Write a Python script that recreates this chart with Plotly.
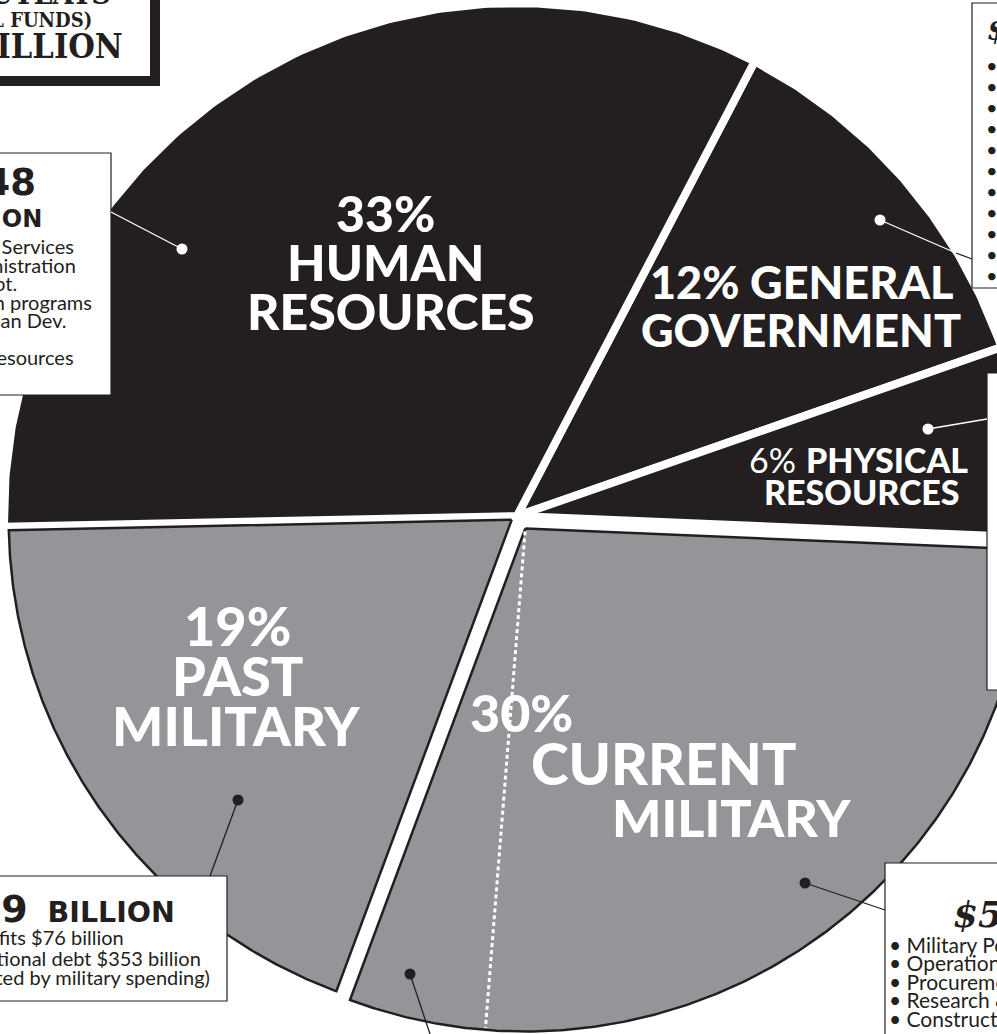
import numpy as np
import plotly.graph_objects as go

W, H = 997, 1034

# ---------------- data ----------------
categories = ["GENERAL GOVERNMENT", "PHYSICAL RESOURCES", "CURRENT MILITARY",
              "PAST MILITARY", "HUMAN RESOURCES"]
percent = [12, 6, 30, 19, 33]
dark_or_gray = ["dark", "dark", "gray", "gray", "dark"]
current_military_split = [25.6, 4.4]   # portion beyond the dotted line

title_lines = ["TOTAL OUTLAYS", "(FEDERAL FUNDS)", "$2,265 BILLION"]
hr_heading = ["$648", "BILLION"]
hr_items = ["• Health & Human Services", "• Social Security Administration",
            "• Education Dept.", "• Food & nutrition programs",
            "• Housing & Urban Dev.", "• Labor Dept.", "• Other human resources"]
pm_heading = ["$359", "BILLION"]
pm_items = ["• Veterans' benefits $76 billion",
            "• Interest on national debt $353 billion",
            "(80% of debt created by military spending)"]
cm_heading = "$542 BILLION"
cm_items = ["• Military Personnel", "• Operation & Maintenance", "• Procurement",
            "• Research & Development", "• Construction"]
gg_heading = "$272 BILLION"
gg_items = ["• Interest on non-military debt", "• Justice Dept.", "• Treasury Dept.",
            "• Legislative", "• Judicial", "• Executive Office", "• State Dept.",
            "• International affairs", "• Homeland Security", "• Government admin.",
            "• Other"]

# ---------------- styling / geometry ----------------
DARK = "#231f20"
GRAY = "#939598"
CX, CY = 517, 516
R_DARK = 509
R_GRAY = 503
START = 27.6
GAP = 8
PULL = {"CURRENT MILITARY": 15, "PAST MILITARY": 6.5}

cum = np.concatenate([[0], np.cumsum(percent)])
a_start = START + 360 * cum[:-1] / 100
a_end = START + 360 * cum[1:] / 100


def wedge(cx, cy, r, a0, a1, n=240):
    t = np.radians(np.linspace(a0, a1, n))
    xs = np.concatenate([[cx], cx + r * np.sin(t), [cx]])
    ys = np.concatenate([[cy], cy - r * np.cos(t), [cy]])
    return xs, ys


fig = go.Figure()
apex = {}
for kind in ["dark", "gray"]:
    for i, cat in enumerate(categories):
        if dark_or_gray[i] != kind:
            continue
        mid = np.radians((a_start[i] + a_end[i]) / 2)
        p = PULL.get(cat, 0)
        ax_, ay_ = CX + p * np.sin(mid), CY - p * np.cos(mid)
        apex[cat] = (ax_, ay_)
        if kind == "dark":
            xs, ys = wedge(ax_, ay_, R_DARK + GAP / 2, a_start[i], a_end[i])
            fig.add_trace(go.Scatter(x=xs, y=ys, mode="lines", fill="toself",
                                     fillcolor=DARK, line=dict(color="white", width=GAP),
                                     hoverinfo="skip", name=cat))
        else:
            xs, ys = wedge(ax_, ay_, R_GRAY, a_start[i], a_end[i])
            fig.add_trace(go.Scatter(x=xs, y=ys, mode="lines", fill="toself",
                                     fillcolor=GRAY, line=dict(color=DARK, width=2.5),
                                     hoverinfo="skip", name=cat))

# dotted split line inside current military
icm = categories.index("CURRENT MILITARY")
ang = np.radians(a_end[icm] - 360 * current_military_split[1] / 100)
axc, ayc = apex["CURRENT MILITARY"]
rr = np.array([3, R_GRAY - 2])
fig.add_trace(go.Scatter(x=axc + rr * np.sin(ang), y=ayc - rr * np.cos(ang), mode="lines",
                         line=dict(color="white", width=3, dash="4px,3px"),
                         hoverinfo="skip"))

shapes = []


def rect(x0, y0, x1, y1, lw=1.2, lc=DARK):
    shapes.append(dict(type="rect", xref="x", yref="y", x0=x0, y0=y0, x1=x1, y1=y1,
                       line=dict(color=lc, width=lw), fillcolor="white", layer="above"))


def seg(x0, y0, x1, y1, color, w=1.3):
    shapes.append(dict(type="line", xref="x", yref="y", x0=x0, y0=y0, x1=x1, y1=y1,
                       line=dict(color=color, width=w), layer="above"))


def dot(x, y, color, r=5.5):
    shapes.append(dict(type="circle", xref="x", yref="y", x0=x - r, y0=y - r, x1=x + r, y1=y + r,
                       line=dict(width=0), fillcolor=color, layer="above"))


# boxes
rect(-400, -100, 155, 81, lw=10)
rect(-400, 153, 111, 395)
rect(-400, 876, 227, 1001)
rect(972, 3, 1400, 288)
rect(987, 373, 1400, 690)
rect(885, 863, 1400, 1400)

# leaders
seg(182, 249, 111, 212, "white")
dot(182, 249, "white")
seg(880, 220, 956, 253, "white")
seg(956, 253, 972, 259, DARK)
dot(880, 220, "white")
seg(928, 429, 987, 419, "white")
dot(928, 429, "white")
seg(238, 800, 210, 876, DARK)
dot(238, 800, DARK)
seg(805, 883, 885, 910, DARK)
dot(805, 883, DARK)
seg(410, 974, 432, 1040, DARK)
dot(410, 974, DARK)

SANS = "Lato, 'Open Sans', sans-serif"
BOLDSANS = "'Lato Black', 'Lato Heavy', Lato, sans-serif"
STENCIL = "'DejaVu Serif Condensed', 'DejaVu Serif', serif"
HEAVY = "'DejaVu Sans', sans-serif"


def txt(x, y, s, size, color=DARK, family=SANS, xanchor="center", weight="normal", style="normal"):
    fig.add_annotation(x=x / W, y=1 - y / H, xref="paper", yref="paper", text=s,
                       showarrow=False, xanchor=xanchor, yanchor="middle",
                       font=dict(size=size, color=color, family=family, weight=weight, style=style),
                       borderpad=0)


# big slice labels
B = "bold"
txt(385, 213, "33%", 50, "white", BOLDSANS, weight=B)
txt(385, 262, "HUMAN", 50, "white", BOLDSANS, weight=B)
txt(391, 311, "RESOURCES", 50, "white", BOLDSANS, weight=B)
txt(801, 282, "12% GENERAL", 45, "white", BOLDSANS, weight=B)
txt(801, 330, "GOVERNMENT", 45, "white", BOLDSANS, weight=B)
txt(797, 460, "6%", 34, "white", SANS, xanchor="right")
txt(805, 460, "PHYSICAL", 34, "white", BOLDSANS, xanchor="left", weight=B)
txt(862, 492, "RESOURCES", 34, "white", BOLDSANS, weight=B)
txt(237, 625, "19%", 54, "white", BOLDSANS, weight=B)
txt(237, 675, "PAST", 54, "white", BOLDSANS, weight=B)
txt(236, 725, "MILITARY", 54, "white", BOLDSANS, weight=B)
txt(521, 712, "30%", 52, "white", BOLDSANS, weight=B)
txt(663, 763, "CURRENT", 57, "white", BOLDSANS, weight=B)
txt(731, 817, "MILITARY", 52, "white", BOLDSANS, weight=B)

# title box
txt(112, -6, title_lines[0], 30, family=STENCIL, xanchor="right", weight="bold")
txt(93, 20, title_lines[1], 20, family=STENCIL, xanchor="right", weight="bold")
txt(124, 46, title_lines[2], 34, family=STENCIL, xanchor="right", weight="bold")

# HR box
txt(37, 182, hr_heading[0], 37, family=HEAVY, xanchor="right", weight="bold")
txt(43, 219, hr_heading[1], 24, family=HEAVY, xanchor="right", weight="bold")
hr_ends = [75, 77, 18, 93, 68, -30, 75]
for k, s in enumerate(hr_items):
    txt(hr_ends[k], 246 + 18.5 * k, s, 20, xanchor="right")

# PM box
txt(176, 909, "<span style='font-size:38px'>" + pm_heading[0] + "</span> &#160;" + pm_heading[1],
    28.5, family=HEAVY, xanchor="right", weight="bold")
pm_ends = [125, 202, 211]
pm_y = [937, 958, 977]
for k, s in enumerate(pm_items):
    txt(pm_ends[k], pm_y[k], s, 20, xanchor="right")

# CM box
txt(952, 914, cm_heading, 36, family="'DejaVu Serif', serif", xanchor="left",
    weight="bold", style="italic")
for k, s in enumerate(cm_items):
    txt(888, 944 + 18.5 * k, s, 21, xanchor="left")

# GG box
txt(986, 30, gg_heading, 30, family="'DejaVu Serif', serif", xanchor="left",
    weight="bold", style="italic")
for k, s in enumerate(gg_items):
    txt(985, 65 + 21 * k, s, 20, xanchor="left")

fig.update_layout(
    width=W, height=H, margin=dict(l=0, r=0, t=0, b=0),
    paper_bgcolor="white", plot_bgcolor="white", showlegend=False,
    xaxis=dict(range=[0, W], visible=False, fixedrange=True),
    yaxis=dict(range=[H, 0], visible=False, fixedrange=True),
    shapes=shapes,
)

fig.write_html("out.html")
